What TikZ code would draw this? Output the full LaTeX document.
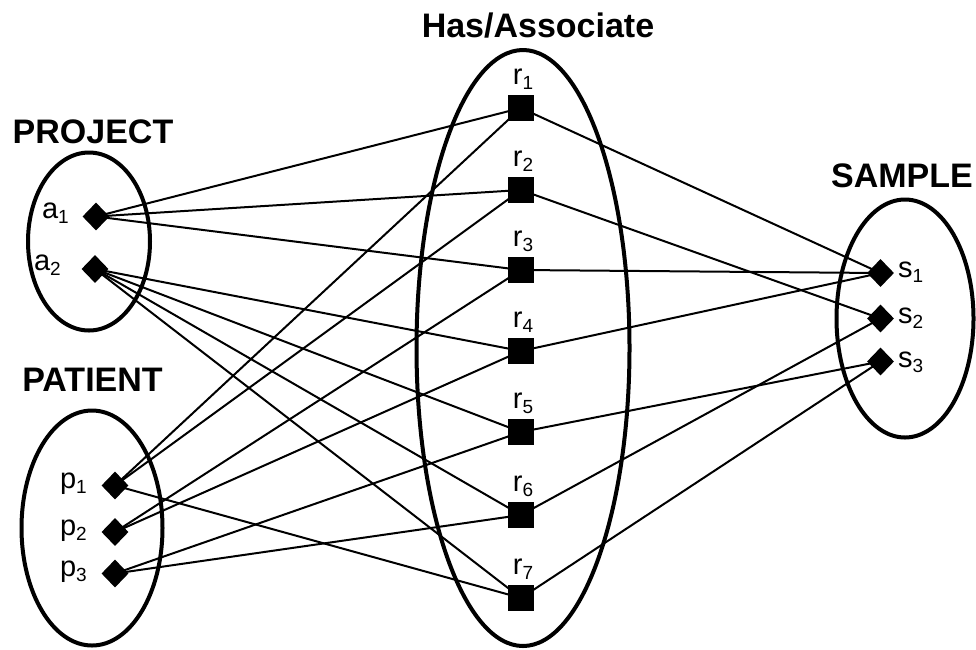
\documentclass[tikz,border=0pt]{standalone}
\usepackage{fontspec}
\setmainfont{Liberation Sans}
\usetikzlibrary{shapes.geometric}
\newcommand\mysub[1]{\raisebox{-5pt}{\fontsize{19}{19}\selectfont #1}}
\begin{document}
\begin{tikzpicture}[x=1pt,y=-1pt,
  dia/.style={diamond, fill=black, inner sep=0pt, minimum width=27pt, minimum height=28pt},
  sq/.style={rectangle, fill=black, inner sep=0pt, minimum size=26pt},
  setell/.style={ellipse, draw=black, line width=4pt, inner sep=0pt},
  link/.style={line width=2pt},
  lbl/.style={font=\fontsize{29}{29}\selectfont, inner sep=0pt},
  ttl/.style={font=\fontsize{34}{34}\selectfont\bfseries, inner sep=0pt}]
\useasboundingbox (0,0) rectangle (976,649);
% containers
\node[setell, minimum width=122pt, minimum height=178pt] (projset) at (89,241.5) {};
\node[setell, minimum width=141pt, minimum height=235pt] (patset) at (92,528) {};
\node[setell, minimum width=213pt, minimum height=596pt] (hasset) at (523,348) {};
\node[setell, minimum width=137pt, minimum height=238pt] (sampset) at (905,318.5) {};
% titles
\node[ttl] (tproj) at (93,132) {PROJECT};
\node[ttl] (tpat) at (92.5,379.5) {PATIENT};
\node[ttl] (thas) at (538,26) {Has/Associate};
\node[ttl] (tsamp) at (902,176) {SAMPLE};
% element nodes
\node[dia] (a1) at (96,216.5) {};
\node[dia] (a2) at (95,269) {};
\node[dia] (p1) at (115,485.5) {};
\node[dia] (p2) at (115,532) {};
\node[dia] (p3) at (115,573.5) {};
\node[dia] (s1) at (880.5,273) {};
\node[dia] (s2) at (880.5,318.5) {};
\node[dia] (s3) at (880.5,361.5) {};
\node[sq] (r1) at (521,108) {};
\node[sq] (r2) at (521,190) {};
\node[sq] (r3) at (521,270) {};
\node[sq] (r4) at (521,351) {};
\node[sq] (r5) at (521,432) {};
\node[sq] (r6) at (521,515) {};
\node[sq] (r7) at (521,598) {};
% element labels
\node[lbl, anchor=base east] (la1) at (69,218) {a\mysub{1}};
\node[lbl, anchor=base east] (la2) at (61,270) {a\mysub{2}};
\node[lbl, anchor=base east] (lp1) at (87,488) {p\mysub{1}};
\node[lbl, anchor=base east] (lp2) at (87,535) {p\mysub{2}};
\node[lbl, anchor=base east] (lp3) at (87,576) {p\mysub{3}};
\node[lbl, anchor=base west] (ls1) at (898,277) {s\mysub{1}};
\node[lbl, anchor=base west] (ls2) at (898,323) {s\mysub{2}};
\node[lbl, anchor=base west] (ls3) at (898,367) {s\mysub{3}};
\foreach \i in {1,...,7}{
  \node[lbl, anchor=base, yshift=10pt, xshift=2pt] (lr\i) at (r\i.north) {r\mysub{\i}};
}
% connectors left
\draw[link] (a1.center) -- (r1.center);
\draw[link] (a1.center) -- (r2.center);
\draw[link] (a1.center) -- (r3.center);
\draw[link] (a2.center) -- (r4.center);
\draw[link] (a2.center) -- (r5.center);
\draw[link] (a2.center) -- (r6.center);
\draw[link] (a2.center) -- (r7.center);
\draw[link] (p1.center) -- (r1.center);
\draw[link] (p1.center) -- (r2.center);
\draw[link] (p1.center) -- (r7.center);
\draw[link] (p2.center) -- (r3.center);
\draw[link] (p2.center) -- (r4.center);
\draw[link] (p3.center) -- (r5.center);
\draw[link] (p3.center) -- (r6.center);
% connectors right
\draw[link] (r1.center) -- (s1.center);
\draw[link] (r2.center) -- (s2.center);
\draw[link] (r3.center) -- (s1.center);
\draw[link] (r4.center) -- (s1.center);
\draw[link] (r5.center) -- (s3.center);
\draw[link] (r6.center) -- (s2.center);
\draw[link] (r7.center) -- (s3.center);
\end{tikzpicture}
\end{document}
